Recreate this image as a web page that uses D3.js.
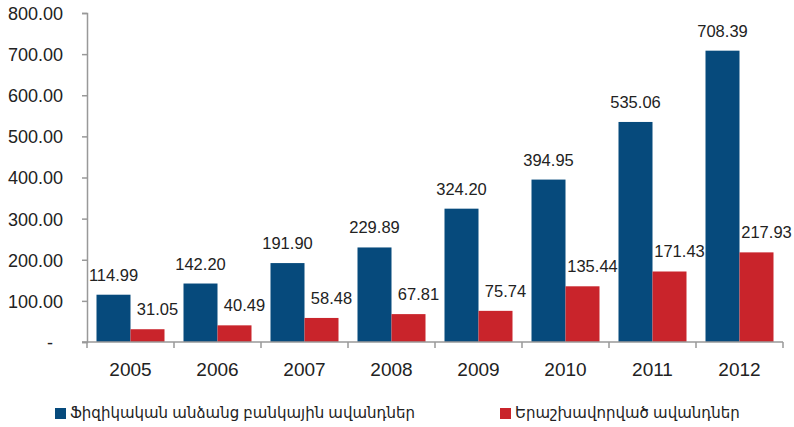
<!DOCTYPE html>
<html>
<head>
<meta charset="utf-8">
<script src="https://cdn.jsdelivr.net/npm/d3@7"></script>
<style>
  body { margin: 0; background: #fff; }
  svg { display: block; font-family: "Liberation Sans", Arial, "DejaVu Sans", sans-serif; }
</style>
</head>
<body>
<svg id="svg" width="794" height="427"></svg>
<script>
// data
var years = ["2005", "2006", "2007", "2008", "2009", "2010", "2011", "2012"];
var physicalDeposits = [114.99, 142.20, 191.90, 229.89, 324.20, 394.95, 535.06, 708.39];
var guaranteedDeposits = [31.05, 40.49, 58.48, 67.81, 75.74, 135.44, 171.43, 217.93];
var seriesNames = ["Ֆիզիկական անձանց բանկային ավանդներ", "Երաշխավորված ավանդներ"];
var yTicks = [0, 100, 200, 300, 400, 500, 600, 700, 800];

var colors = ["#064a7c", "#c9242b"];
var textColor = "#222";
var axisColor = "#999";

var plotLeft = 87, plotRight = 783, plotTop = 13, plotBottom = 342;
var groupWidth = 68;

var svg = d3.select("#svg");

// scales
var x = d3.scaleBand().domain(years).range([plotLeft, plotRight]).padding(0);
var xs = d3.scaleBand().domain([0, 1]).range([0, groupWidth]).padding(0);
var y = d3.scaleLinear().domain([0, 800]).range([plotBottom, plotTop]);

var rows = years.map(function(yr, i) {
	return { year: yr, values: [physicalDeposits[i], guaranteedDeposits[i]] };
});

// y axis
var yAxis = svg.append("g")
	.attr("transform", "translate(" + plotLeft + ",0)")
	.call(d3.axisLeft(y).tickValues(yTicks).tickSize(5).tickPadding(19)
		.tickFormat(function(d){ return d == 0 ? "-" : d3.format(".2f")(d); }));
yAxis.select(".domain").attr("stroke", axisColor).attr("stroke-width", 1.5);
yAxis.selectAll(".tick line").attr("stroke", axisColor).attr("stroke-width", 1.5);
yAxis.selectAll(".tick text")
	.attr("fill", textColor)
	.attr("font-size", 18)
	.attr("dy", "0.36em");
yAxis.selectAll(".tick text").filter(function(d){ return d == 0; })
	.attr("x", -37).attr("text-anchor", "middle");

// bars
var groups = svg.append("g").selectAll(".group").data(rows).enter()
	.append("g")
	.attr("class", "group")
	.attr("transform", function(d){ return "translate(" + (x(d.year) + (x.bandwidth() - groupWidth) / 2) + ",0)"; });

groups.selectAll("rect").data(function(d){ return d.values; }).enter()
	.append("rect")
	.attr("x", function(d, i){ return xs(i); })
	.attr("y", function(d){ return y(d); })
	.attr("width", xs.bandwidth())
	.attr("height", function(d){ return plotBottom - y(d); })
	.attr("fill", function(d, i){ return colors[i]; });

groups.selectAll(".val").data(function(d){ return d.values; }).enter()
	.append("text")
	.attr("class", "val")
	.attr("x", function(d, i){ return xs(i) + xs.bandwidth() / 2 + (i == 1 ? 10 : 0); })
	.attr("y", function(d){ return y(d) - 14; })
	.attr("text-anchor", "middle")
	.attr("font-size", 16.5)
	.attr("fill", textColor)
	.text(function(d){ return d3.format(".2f")(d); });

// x axis
var xAxis = svg.append("g")
	.attr("transform", "translate(0," + plotBottom + ")");
xAxis.append("line")
	.attr("x1", plotLeft - 5).attr("x2", plotRight)
	.attr("stroke", axisColor).attr("stroke-width", 1.5);
xAxis.selectAll(".xtick").data(years.concat(["end"])).enter()
	.append("line")
	.attr("x1", function(d){ return d == "end" ? plotRight : x(d); })
	.attr("x2", function(d){ return d == "end" ? plotRight : x(d); })
	.attr("y1", 0).attr("y2", 6)
	.attr("stroke", axisColor).attr("stroke-width", 1.5);
xAxis.selectAll(".xlabel").data(years).enter()
	.append("text")
	.attr("x", function(d){ return x(d) + x.bandwidth() / 2; })
	.attr("y", 34)
	.attr("text-anchor", "middle")
	.attr("font-size", 19)
	.attr("fill", textColor)
	.text(function(d){ return d; });

// legend
var legendX = [55, 500];
var legend = svg.append("g").selectAll(".leg").data(seriesNames).enter()
	.append("g")
	.attr("transform", function(d, i){ return "translate(" + legendX[i] + ",408)"; });
legend.append("rect")
	.attr("width", 11).attr("height", 11)
	.attr("fill", function(d, i){ return colors[i]; });
legend.append("text")
	.attr("x", 15).attr("y", 10)
	.attr("font-size", 15)
	.attr("fill", textColor)
	.text(function(d){ return d; });
</script>
</body>
</html>
